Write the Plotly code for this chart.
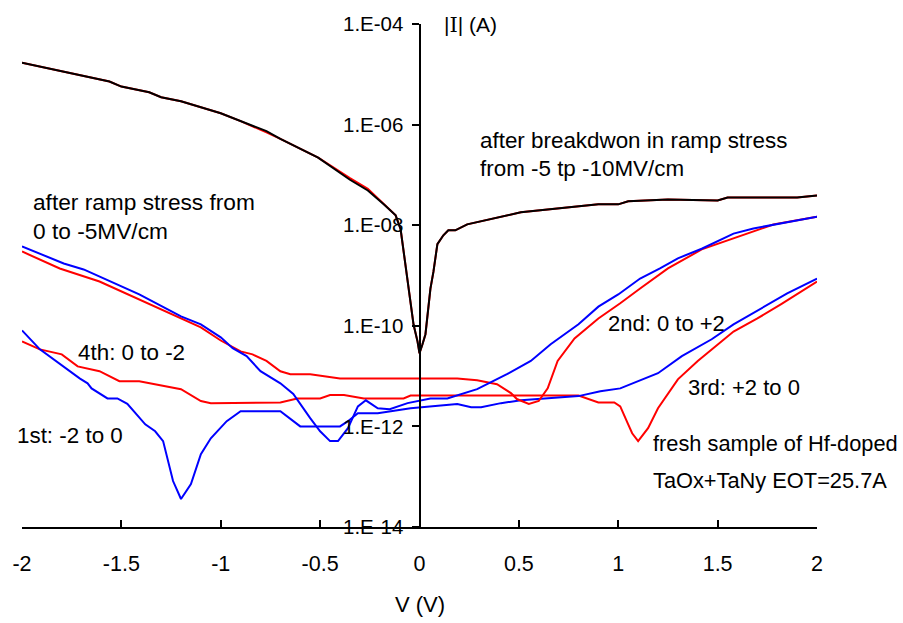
import plotly.graph_objects as go

# ---- I-V data: gate voltage (V) and leakage current |I| (A) ----

# after breakdown in ramp stress from -5 to -10 MV/cm
v_bd = [-2.00, -1.56, -1.50, -1.36, -1.30, -1.20, -1.00, -0.90, -0.77, -0.70,
        -0.51, -0.35, -0.26, -0.18, -0.12, -0.095, -0.08, -0.06, -0.045, -0.03,
        -0.01, 0.00, 0.015, 0.03, 0.055, 0.07, 0.09, 0.105, 0.12, 0.145,
        0.18, 0.24, 0.51, 0.90, 1.00, 1.05, 1.25, 1.50, 1.55, 1.90, 2.00]
i_bd_down = [1.7e-5, 7.2e-6, 5.7e-6, 4.4e-6, 3.5e-6, 2.9e-6, 1.68e-6, 1.17e-6, 7.0e-7, 5.2e-7,
             2.2e-7, 8.6e-8, 5.3e-8, 2.6e-8, 1.57e-8, 8.3e-9, 2.9e-9, 8.6e-10, 2.6e-10, 1.06e-10,
             4.9e-11, 2.85e-11, 4.3e-11, 6.8e-11, 5.5e-10, 1.18e-9, 4.2e-9, 5.3e-9, 6.3e-9, 7.9e-9,
             7.9e-9, 1.04e-8, 1.8e-8, 2.6e-8, 2.6e-8, 3.0e-8, 3.24e-8, 3.1e-8, 3.55e-8, 3.55e-8, 3.9e-8]
i_bd_up = [1.7e-5, 7.2e-6, 5.7e-6, 4.4e-6, 3.5e-6, 2.9e-6, 1.68e-6, 1.17e-6, 7.4e-7, 5.2e-7,
           2.2e-7, 8.0e-8, 4.9e-8, 2.6e-8, 1.57e-8, 8.3e-9, 2.9e-9, 8.6e-10, 2.6e-10, 1.06e-10,
           4.9e-11, 2.85e-11, 4.3e-11, 6.8e-11, 5.5e-10, 1.18e-9, 4.2e-9, 5.3e-9, 6.3e-9, 7.9e-9,
           7.9e-9, 1.04e-8, 1.8e-8, 2.6e-8, 2.6e-8, 3.0e-8, 3.24e-8, 3.1e-8, 3.55e-8, 3.55e-8, 3.9e-8]

# after ramp stress from 0 to -5 MV/cm (blue sweep)
v_rs_blue = [-2.00, -1.91, -1.79, -1.69, -1.41, -1.20, -1.10, -1.00, -0.94, -0.87,
             -0.80, -0.70, -0.635, -0.55, -0.50, -0.45, -0.41, -0.36, -0.31, -0.27,
             -0.21, -0.15, -0.06, 0.055, 0.14, 0.29, 0.44, 0.56, 0.66, 0.80,
             0.90, 1.00, 1.11, 1.21, 1.30, 1.42, 1.58, 1.68, 1.78, 2.00]
i_rs_blue = [3.8e-9, 2.7e-9, 1.73e-9, 1.32e-9, 4.2e-10, 1.54e-10, 1.07e-10, 5.9e-11, 3.6e-11, 2.5e-11,
             1.25e-11, 7.2e-12, 4.4e-12, 1.46e-12, 8.0e-13, 5.1e-13, 5.1e-13, 9.2e-13, 2.5e-12, 3.3e-12,
             2.3e-12, 2.2e-12, 2.9e-12, 3.6e-12, 3.6e-12, 5.5e-12, 1.09e-11, 2.0e-11, 4.3e-11, 1.07e-10,
             2.4e-10, 4.2e-10, 8.7e-10, 1.38e-9, 2.2e-9, 3.4e-9, 6.8e-9, 8.6e-9, 1.03e-8, 1.48e-8]

# after ramp stress from 0 to -5 MV/cm (red sweep)
v_rs_red = [-2.00, -1.81, -1.61, -1.31, -1.10, -1.00, -0.90, -0.84, -0.77, -0.70,
            -0.65, -0.55, -0.40, 0.19, 0.29, 0.39, 0.46, 0.49, 0.55, 0.60,
            0.645, 0.695, 0.78, 0.90, 1.01, 1.11, 1.25, 1.42, 1.58, 1.78, 2.00]
i_rs_red = [3.0e-9, 1.38e-9, 7.6e-10, 2.2e-10, 9.3e-11, 5.1e-11, 3.1e-11, 2.7e-11, 2.0e-11, 1.25e-11,
            1.09e-11, 1.09e-11, 9.0e-12, 9.0e-12, 8.3e-12, 6.9e-12, 4.6e-12, 3.5e-12, 2.8e-12, 3.2e-12,
            5.7e-12, 2.0e-11, 5.6e-11, 1.40e-10, 2.8e-10, 5.5e-10, 1.38e-9, 3.3e-9, 5.4e-9, 1.03e-8, 1.48e-8]

# fresh sample, blue sweep
v_fr_blue = [-2.00, -1.91, -1.71, -1.67, -1.65, -1.57, -1.52, -1.47, -1.38, -1.33,
             -1.29, -1.24, -1.20, -1.15, -1.10, -1.05, -0.97, -0.90, -0.70, -0.60,
             -0.40, -0.36, -0.31, -0.21, -0.045, 0.055, 0.19, 0.26, 0.31, 0.41,
             0.51, 0.80, 0.91, 1.01, 1.10, 1.20, 1.32, 1.47, 1.58, 1.72, 1.85, 2.00]
i_fr_blue = [8.1e-11, 3.4e-11, 9.0e-12, 7.2e-12, 5.7e-12, 3.6e-12, 3.6e-12, 2.8e-12, 1.1e-12, 8.0e-13,
             5.1e-13, 8.2e-14, 3.6e-14, 7.1e-14, 2.8e-13, 5.8e-13, 1.27e-12, 2.0e-12, 2.0e-12, 1.0e-12,
             1.0e-12, 1.27e-12, 1.83e-12, 1.83e-12, 2.3e-12, 2.5e-12, 2.8e-12, 2.4e-12, 2.4e-12, 2.9e-12,
             3.3e-12, 4.0e-12, 5.0e-12, 5.7e-12, 7.9e-12, 1.14e-11, 2.5e-11, 5.4e-11, 1.07e-10, 2.2e-10, 4.4e-10, 8.7e-10]

# fresh sample, red sweep
v_fr_red = [-2.00, -1.91, -1.80, -1.72, -1.61, -1.51, -1.41, -1.20, -1.10, -1.05,
            -0.70, -0.615, -0.50, -0.45, -0.38, -0.28, -0.08, -0.045, 0.80, 0.90,
            0.98, 1.01, 1.05, 1.07, 1.10, 1.15, 1.20, 1.30, 1.40, 1.50, 1.58, 1.70, 1.82, 2.00]
i_fr_red = [4.9e-11, 3.4e-11, 2.7e-11, 1.56e-11, 1.25e-11, 7.9e-12, 7.9e-12, 5.5e-12, 3.2e-12, 2.9e-12,
            3.0e-12, 3.6e-12, 3.6e-12, 4.2e-12, 4.2e-12, 3.6e-12, 3.6e-12, 4.1e-12, 4.1e-12, 3.0e-12,
            3.0e-12, 2.5e-12, 1.1e-12, 7.3e-13, 5.1e-13, 9.2e-13, 2.3e-12, 8.6e-12, 2.0e-11, 4.3e-11,
            7.7e-11, 1.40e-10, 2.7e-10, 7.6e-10]

# axis ticks
x_ticks = [-2, -1.5, -1, -0.5, 0, 0.5, 1, 1.5, 2]
x_tick_text = ["-2", "-1.5", "-1", "-0.5", "0", "0.5", "1", "1.5", "2"]
y_ticks = [1e-4, 1e-6, 1e-8, 1e-10, 1e-12, 1e-14]
y_tick_text = ["1.E-04", "1.E-06", "1.E-08", "1.E-10", "1.E-12", "1.E-14"]

RED = "#FF0000"
BLUE = "#0000FF"
FONT = "Liberation Sans, Arial, sans-serif"

fig = go.Figure()

series = [
    (v_fr_red, i_fr_red, RED),
    (v_fr_blue, i_fr_blue, BLUE),
    (v_rs_red, i_rs_red, RED),
    (v_rs_blue, i_rs_blue, BLUE),
    (v_bd, i_bd_down, RED),
    (v_bd, i_bd_up, "#000000"),
]
for xs, ys, col in series:
    fig.add_trace(go.Scatter(x=xs, y=ys, mode="lines",
                             line=dict(color=col, width=2),
                             showlegend=False, hoverinfo="skip"))

# curve labels, placed in paper coordinates (plot area spans 0..1)
labels = [
    ("after ramp stress from", 0.0123, 0.647, 22.7),
    ("0 to -5MV/cm", 0.0123, 0.588, 22.7),
    ("after breakdwon in ramp stress", 0.575, 0.769, 22.4),
    ("from -5 tp -10MV/cm", 0.575, 0.712, 22.4),
    ("4th: 0 to -2", 0.069, 0.346, 22.4),
    ("1st: -2 to 0", -0.0075, 0.182, 22.4),
    ("2nd: 0 to +2", 0.736, 0.405, 22),
    ("3rd: +2 to 0", 0.836, 0.277, 22),
    ("fresh sample of Hf-doped", 0.792, 0.166, 21.8),
    ("TaOx+TaNy EOT=25.7A", 0.792, 0.093, 21.8),
]
for txt, px, py, fs in labels:
    fig.add_annotation(x=px, y=py, xref="paper", yref="paper", text=txt, showarrow=False,
                       xanchor="left", yanchor="middle", borderpad=0,
                       font=dict(family=FONT, size=fs, color="#000000"))

# axis titles
fig.add_annotation(x=0.529, y=0.998, xref="paper", yref="paper",
                   text="|<span style='font-family:DejaVu Serif'>I</span>| (A)",
                   showarrow=False, xanchor="left", yanchor="middle", borderpad=0,
                   font=dict(family=FONT, size=21, color="#000000"))
fig.add_annotation(x=0.5, y=-0.154, xref="paper", yref="paper", text="V (V)", showarrow=False,
                   xanchor="center", yanchor="middle", borderpad=0,
                   font=dict(family=FONT, size=22, color="#000000"))

fig.update_layout(
    width=903, height=623,
    margin=dict(l=22, r=86, t=20, b=96),
    paper_bgcolor="white", plot_bgcolor="white",
    showlegend=False,
    xaxis=dict(range=[-2, 2], tickvals=x_ticks, ticktext=x_tick_text,
               showline=True, linecolor="black", linewidth=2, mirror=False,
               ticks="inside", ticklen=7, tickwidth=2, tickcolor="black",
               ticklabelstandoff=16, showgrid=False, zeroline=False,
               tickfont=dict(family=FONT, size=21.5, color="#000000")),
    yaxis=dict(type="log", range=[-14, -4], tickvals=y_ticks, ticktext=y_tick_text,
               anchor="free", position=0.5,
               showline=True, linecolor="black", linewidth=2,
               ticks="outside", ticklen=7, tickwidth=2, tickcolor="black",
               ticklabelstandoff=4, showgrid=False, zeroline=False,
               tickfont=dict(family=FONT, size=20.5, color="#000000")),
)

fig.write_html("out.html")
